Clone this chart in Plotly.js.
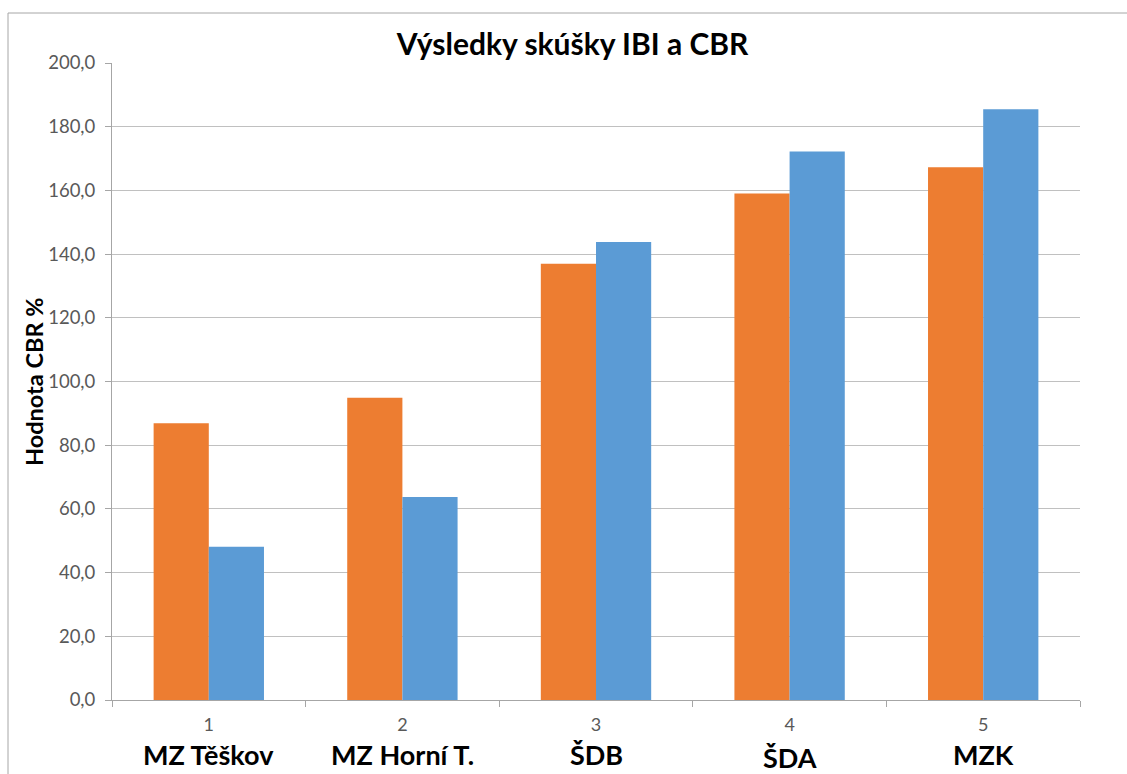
<!DOCTYPE html>
<html>
<head>
<meta charset="utf-8">
<script src="https://cdn.plot.ly/plotly-3.0.1.min.js"></script>
<style>
  html, body { margin: 0; padding: 0; background: #fff; }
  #chart { width: 1127px; height: 774px; }
</style>
</head>
<body>
<div id="chart"></div>
<script>
// data
const categories = ['1', '2', '3', '4', '5'];
const siteNames = ['MZ Těškov', 'MZ Horní T.', 'ŠDB', 'ŠDA', 'MZK'];
const orangeValues = [86.9, 94.9, 137.0, 159.0, 167.3];
const blueValues = [48.1, 63.7, 143.8, 172.2, 185.5];
const yTicks = [0, 20, 40, 60, 80, 100, 120, 140, 160, 180, 200];

const labelFont = 'Lato, "Open Sans", sans-serif';

// big site names under the small category numbers (x = category index)
const nameAnnotations = siteNames.map((name, i) => ({
    x: i,
    xref: 'x',
    y: 0,
    yref: 'paper',
    yanchor: 'top',
    yshift: -36 - (i === 3 ? 3 : 0),
    text: name,
    showarrow: false,
    font: {family: labelFont, size: 27, color: '#000000', weight: 'bold'}
}));

const traces = [
    {
        x: categories, y: orangeValues, type: 'bar', name: 'IBI',
        marker: {color: '#ED7D31'}
    },
    {
        x: categories, y: blueValues, type: 'bar', name: 'CBR',
        marker: {color: '#5B9BD5'}
    }
];

const layout = {
    width: 1127,
    height: 774,
    margin: {l: 112, r: 47, t: 63, b: 74},
    paper_bgcolor: '#ffffff',
    plot_bgcolor: '#ffffff',
    separators: ', ',
    showlegend: false,
    barmode: 'group',
    bargap: 0.43,
    bargroupgap: 0,
    font: {family: labelFont, color: '#595959'},
    title: {
        text: 'Výsledky skúšky IBI a CBR',
        xref: 'container', yref: 'container',
        x: 0.508, xanchor: 'center',
        y: 0.942, yanchor: 'middle',
        font: {family: labelFont, size: 30, color: '#000000', weight: 'bold'}
    },
    xaxis: {
        type: 'category',
        range: [-0.5, 4.5],
        showgrid: false,
        showline: true,
        linecolor: '#a6a6a6',
        linewidth: 1,
        ticks: 'outside',
        tickson: 'boundaries',
        ticklen: 6,
        tickcolor: '#a6a6a6',
        ticklabelstandoff: 8,
        tickfont: {family: labelFont, size: 18, color: '#595959'},
        zeroline: false
    },
    yaxis: {
        range: [0, 200],
        tickvals: yTicks,
        tickformat: '.1f',
        showgrid: true,
        gridcolor: '#c0c0c0',
        gridwidth: 1,
        showline: true,
        linecolor: '#a6a6a6',
        linewidth: 1,
        ticks: 'outside',
        ticklen: 6,
        tickcolor: '#a6a6a6',
        ticklabelstandoff: 6,
        tickfont: {family: labelFont, size: 18.5, color: '#595959'},
        zeroline: false
    },
    annotations: [
        {
            text: 'Hodnota CBR %',
            textangle: -90,
            xref: 'paper', yref: 'paper',
            x: -0.081, y: 0.5,
            xanchor: 'center', yanchor: 'middle',
            showarrow: false,
            font: {family: labelFont, size: 23.5, color: '#000000', weight: 'bold'}
        }
    ].concat(nameAnnotations),
    shapes: [
        // chart frame (left and top edges visible, rest runs off the page)
        {
            type: 'rect', xref: 'paper', yref: 'paper',
            x0: -104 / 968, x1: 1.1,
            y0: -0.3, y1: 687 / 637,
            line: {color: '#a6a6a6', width: 1},
            fillcolor: 'rgba(0,0,0,0)',
            layer: 'below'
        }
    ]
};

Plotly.newPlot('chart', traces, layout, {displayModeBar: false, staticPlot: true});
</script>
</body>
</html>
